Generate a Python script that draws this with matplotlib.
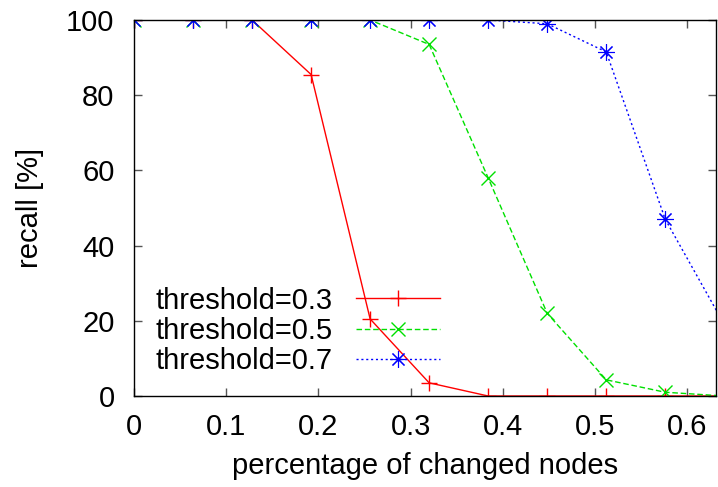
import matplotlib
matplotlib.use("Agg")
import matplotlib.pyplot as plt

plt.rcParams['font.family'] = ['Liberation Sans', 'DejaVu Sans']

# fraction of nodes changed (x) and recall in percent for each threshold
changed = [0.0, 0.064, 0.128, 0.192, 0.256, 0.32, 0.384, 0.448, 0.512, 0.576, 0.64]
recall_03 = [100, 100, 100, 85.5, 20.5, 3.5, 0, 0, 0, 0, 0]
recall_05 = [100, 100, 100, 100, 100, 93.5, 58, 22, 4.3, 1, 0]
recall_07 = [100, 100, 100, 100, 100, 100, 100, 99, 91.5, 47, 19]

labels = ['threshold=0.3', 'threshold=0.5', 'threshold=0.7']
xticks = [0, 0.1, 0.2, 0.3, 0.4, 0.5, 0.6]
yticks = [0, 20, 40, 60, 80, 100]

fig = plt.figure(figsize=(7.18, 4.87), dpi=100)
ax = fig.add_axes([134 / 718, 91 / 487, 582 / 718, 376 / 487])

ax.plot(changed, recall_03, color='#ff0000', lw=1, ls='-', marker='+',
        ms=12, mew=1, label=labels[0])
ax.plot(changed, recall_05, color='#00e000', lw=1, ls=(0, (4, 2)), marker='x',
        ms=10, mew=1, label=labels[1])
ax.plot(changed, recall_07, color='#0000ff', lw=1, ls=(0, (1.5, 2)), marker=(8, 2, 0),
        ms=12, mew=0.8, label=labels[2])

ax.set_xlim(0, 0.631)
ax.set_ylim(0, 100)
ax.set_xticks(xticks)
ax.set_xticklabels(['0', '0.1', '0.2', '0.3', '0.4', '0.5', '0.6'])
ax.set_yticks(yticks)

ax.tick_params(direction='in', length=6, width=1, top=True, right=True,
               labelsize=21, color='#555555')
ax.tick_params(axis='x', pad=12)
ax.tick_params(axis='y', pad=14)
for sp in ax.spines.values():
    sp.set_linewidth(1)

ax.set_xlabel('percentage of changed nodes', fontsize=21)
ax.set_ylabel('recall [%]', fontsize=21)
ax.xaxis.set_label_coords(0.5, -0.15)
ax.yaxis.set_label_coords(-0.155, 0.5)

ax.legend(loc='lower right', bbox_to_anchor=(0.526, 0.055), frameon=False,
          markerfirst=False, fontsize=21, handlelength=2.9, handletextpad=0.8,
          labelspacing=0.08, borderpad=0, borderaxespad=0, numpoints=1)

fig.savefig('out.png', dpi=100)
